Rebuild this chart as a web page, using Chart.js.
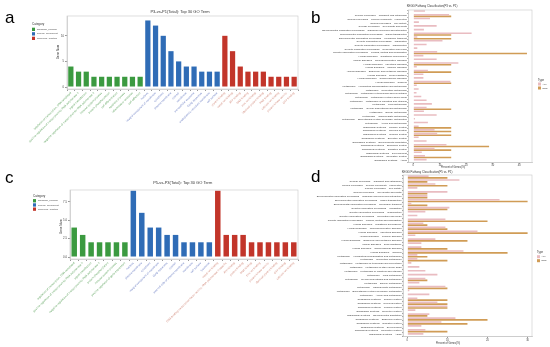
<!DOCTYPE html>
<html><head><meta charset="utf-8">
<script src="https://cdn.jsdelivr.net/npm/chart.js@4/dist/chart.umd.min.js"></script>
<style>
html,body{margin:0;padding:0;background:#fff;width:550px;height:347px;overflow:hidden;}
canvas{position:absolute;}
</style></head><body>
<canvas id="ca" width="300" height="170" style="left:0;top:0"></canvas>
<canvas id="cb" width="250" height="170" style="left:300px;top:0"></canvas>
<canvas id="cc" width="300" height="177" style="left:0;top:170px"></canvas>
<canvas id="cd" width="250" height="177" style="left:300px;top:170px"></canvas>
<script>
// ---------- DATA ----------
const goLabelsA_BP = ["regulation of transcription, DNA-templated","positive regulation of transcription by RNA polymerase II","signal transduction","negative regulation of transcription by RNA polymerase II","immune system process","protein phosphorylation","cell differentiation","apoptotic process","inflammatory response","cell adhesion"];
const goLabelsA_CC = ["nucleus","integral component of membrane","cytoplasm","plasma membrane","cytosol","membrane","extracellular exosome","Golgi apparatus","endoplasmic reticulum membrane","cell surface"];
const goLabelsA_MF = ["protein binding","metal ion binding","ATP binding","DNA binding","zinc ion binding","identical protein binding","RNA binding","calcium ion binding","protein kinase activity","GTP binding"];
const goValuesA_BP = [4,3,3,2,2,2,2,2,2,2];
const goValuesA_CC = [13,12,10,7,5,4,4,3,3,3];
const goValuesA_MF = [10,7,4,3,3,3,2,2,2,2];
const goTicksA = [0,5,10];

const goLabelsC_BP = ["regulation of transcription, DNA-templated","positive regulation of transcription by RNA polymerase II","signal transduction","negative regulation of transcription by RNA polymerase II","protein phosphorylation","immune system process","positive regulation of gene expression"];
const goLabelsC_CC = ["nucleus","plasma membrane","cytoplasm","integral component of membrane","Golgi apparatus","cytosol","external side of plasma membrane","membrane","cell surface","lysosome"];
const goLabelsC_MF = ["metal ion binding","DNA-binding transcription factor activity, RNA polymerase II-specific","ATP binding","protein binding","DNA binding","zinc ion binding","protein kinase activity","identical protein binding","GTP binding","calcium ion binding"];
const goValuesC_BP = [4,3,2,2,2,2,2];
const goValuesC_CC = [9,6,4,4,3,3,2,2,2,2];
const goValuesC_MF = [9,3,3,3,2,2,2,2,2,2];
const goTicksC = [0,2.5,5,7.5];

const goCategories = ["biological_process","cellular_component","molecular_function"];

const keggLabels = ["-",
"Cellular Processes -- Transport and catabolism","Cellular Processes -- Cellular community - eukaryotes","Cellular Processes -- Cell motility","Cellular Processes -- Cell growth and death",
"Environmental Information Processing -- Signaling molecules and interaction","Environmental Information Processing -- Signal transduction","Environmental Information Processing -- Membrane transport",
"Genetic Information Processing -- Translation","Genetic Information Processing -- Transcription","Genetic Information Processing -- Replication and repair","Genetic Information Processing -- Folding, sorting and degradation",
"Human Diseases -- Substance dependence","Human Diseases -- Neurodegenerative diseases","Human Diseases -- Infectious diseases","Human Diseases -- Immune diseases","Human Diseases -- Endocrine and metabolic diseases","Human Diseases -- Drug resistance","Human Diseases -- Cardiovascular diseases","Human Diseases -- Cancers",
"Metabolism -- Xenobiotics biodegradation and metabolism","Metabolism -- Nucleotide metabolism","Metabolism -- Metabolism of terpenoids and polyketides","Metabolism -- Metabolism of other amino acids","Metabolism -- Metabolism of cofactors and vitamins","Metabolism -- Lipid metabolism","Metabolism -- Glycan biosynthesis and metabolism","Metabolism -- Energy metabolism","Metabolism -- Carbohydrate metabolism","Metabolism -- Biosynthesis of other secondary metabolites","Metabolism -- Amino acid metabolism",
"Organismal Systems -- Sensory system","Organismal Systems -- Nervous system","Organismal Systems -- Immune system","Organismal Systems -- Excretory system","Organismal Systems -- Environmental adaptation","Organismal Systems -- Endocrine system","Organismal Systems -- Digestive system","Organismal Systems -- Development","Organismal Systems -- Circulatory system","Organismal Systems -- Aging"];
const keggAllB = [4.4,13.5,6.3,2.1,8.8,4.0,22.0,1.5,11.0,5.0,1.5,9.0,3.8,8.8,17.0,1.3,5.5,3.8,3.8,14.0,1.3,2.0,1.2,3.0,5.0,7.0,5.0,4.0,8.8,0.6,5.5,2.0,8.0,9.0,2.0,5.0,12.5,8.0,3.2,4.4,5.0];
const keggDegB = [0,14.3,0,0,0,0,14.3,14.3,0,0,0,42.9,0,0,14.3,0,14.3,0,0,14.3,0,0,0,0,0,0,14.3,0,0,0,0,14.3,14.3,14.3,0,0,28.6,14.3,0,14.3,0];
const keggAllD = [5.3,13,7,2.5,10,5,23,1,10.5,4.5,2.5,9.5,4,9.5,17.5,2,7,3.5,3.5,14,2.5,2.5,1,3,4.5,7.5,4.5,3,9.5,0.5,5.5,2.5,7.5,10,2,5.5,12,8.5,3.5,4.5,4];
const keggDegD = [10,5,10,0,5,5,30,5,10,0,0,20,5,10,30,0,15,0,10,25,5,10,0,0,0,0,5,0,10,0,0,10,10,10,0,5,20,15,0,10,0];
const keggTicksB = [0,10,20,30,40];
const keggTicksD = [0,10,20,30];
const keggTypes = ["ALL","DEG"];

// ---------- STYLE ----------
const FAM = '"Liberation Sans", Arial, sans-serif';
const catColors = ['#3b9a40','#2f6cb6','#c2352a'];
const catTextColors = ['#6aaa6a','#7788c8','#d28c7e'];
const typeColors = ['#e9bcc1','#d09c56'];

const deco = {
  id:'deco',
  afterDraw(chart, args, o){
    const ctx = chart.ctx, ca = chart.chartArea;
    ctx.save();
    if (o.frame){ ctx.strokeStyle=o.frame; ctx.lineWidth=0.6; ctx.strokeRect(ca.left, ca.top, ca.right-ca.left, ca.bottom-ca.top); }
    (o.rects||[]).forEach(r=>{ ctx.fillStyle=r.c; ctx.fillRect(r.x,r.y,r.w,r.h); });
    (o.texts||[]).forEach(t=>{
      ctx.save();
      ctx.font = t.f; ctx.fillStyle = t.c||'#222';
      ctx.textAlign = t.a||'left'; ctx.textBaseline = t.b||'middle';
      ctx.translate(t.x,t.y); if (t.r) ctx.rotate(t.r);
      ctx.fillText(t.t,0,0);
      ctx.restore();
    });
    ctx.restore();
  }
};
Chart.register(deco);

function goChart(id, vals, labs, ticks, yMin, yMax, pad, yW, xH, barPct, dec, fmt){
  const labels = [].concat(labs[0], labs[1], labs[2]);
  const data = [].concat(vals[0], vals[1], vals[2]);
  const cats = [].concat(vals[0].map(()=>0), vals[1].map(()=>1), vals[2].map(()=>2));
  return new Chart(document.getElementById(id), {
    type:'bar',
    data:{ labels, datasets:[{ data, backgroundColor: cats.map(c=>catColors[c]), borderWidth:0, barPercentage:barPct, categoryPercentage:1 }]},
    options:{
      responsive:false, animation:false, devicePixelRatio:1,
      layout:{ padding:pad },
      plugins:{ legend:{display:false}, tooltip:{enabled:false}, deco:dec },
      scales:{
        x:{ type:'category', offset:true,
            grid:{ display:true, drawOnChartArea:false, drawTicks:true, tickLength:2, color:'#999' },
            border:{ display:true, color:'#bbb', width:0.6 },
            ticks:{ autoSkip:false, minRotation:45, maxRotation:45, padding:0.5,
                    font:{ size:2.8, family:FAM }, color: c=>catTextColors[cats[c.index]] },
            afterFit: s=>{ s.height=xH; s.paddingLeft=0; s.paddingRight=0; s.paddingTop=0; s.paddingBottom=0; } },
        y:{ min:yMin, max:yMax,
            afterBuildTicks: s=>{ s.ticks = ticks.map(v=>({value:v})); },
            grid:{ display:true, drawOnChartArea:false, drawTicks:true, tickLength:2, color:'#999' },
            border:{ display:true, color:'#bbb', width:0.6 },
            ticks:{ font:{ size:2.8, family:FAM }, color:'#444', padding:1, callback: v=>fmt(v) },
            afterFit: s=>{ s.width=yW; s.paddingTop=0; s.paddingBottom=0; } }
      }
    }
  });
}

function keggChart(id, all, deg, ticks, xMin, xMax, pad, yW, xH, dec){
  return new Chart(document.getElementById(id), {
    type:'bar',
    data:{ labels:keggLabels, datasets:[
      { label:keggTypes[0], data:all, backgroundColor:typeColors[0], borderWidth:0, barPercentage:0.95, categoryPercentage:0.9 },
      { label:keggTypes[1], data:deg, backgroundColor:typeColors[1], borderWidth:0, barPercentage:0.95, categoryPercentage:0.9 }
    ]},
    options:{
      indexAxis:'y', responsive:false, animation:false, devicePixelRatio:1,
      layout:{ padding:pad },
      plugins:{ legend:{display:false}, tooltip:{enabled:false}, deco:dec },
      scales:{
        x:{ min:xMin, max:xMax,
            afterBuildTicks: s=>{ s.ticks = ticks.map(v=>({value:v})); },
            grid:{ display:true, drawOnChartArea:false, drawTicks:true, tickLength:1.5, color:'#999' },
            border:{ display:true, color:'#bbb', width:0.6 },
            ticks:{ font:{ size:2.6, family:FAM }, color:'#444', padding:0.3 },
            afterFit: s=>{ s.height=xH; s.paddingLeft=0; s.paddingRight=0; } },
        y:{ type:'category', offset:true,
            grid:{ display:true, drawOnChartArea:false, drawTicks:true, tickLength:1, color:'#999' },
            border:{ display:true, color:'#bbb', width:0.6 },
            ticks:{ autoSkip:false, font:{ size:2.5, family:FAM }, color:'#333', padding:0.5 },
            afterFit: s=>{ s.width=yW; s.paddingTop=0; s.paddingBottom=0; } }
      }
    }
  });
}

function goLegend(x, y0, step){
  const rects = [], texts = [{t:'Category', x:x, y:y0, f:'3px '+FAM, c:'#333'}];
  goCategories.forEach((n,i)=>{
    const yy = y0 + 5 + i*step;
    rects.push({x:x, y:yy-1.6, w:3, h:3.3, c:catColors[i]});
    texts.push({t:n, x:x+5, y:yy, f:'2.4px '+FAM, c:'#444'});
  });
  return {rects, texts};
}
function keggLegend(x, y0){
  const rects = [], texts = [{t:'Type', x:x, y:y0, f:'2.8px '+FAM, c:'#333'}];
  keggTypes.forEach((n,i)=>{
    const yy = y0 + 4 + i*4;
    rects.push({x:x, y:yy-1.5, w:3, h:3, c:typeColors[i]});
    texts.push({t:n, x:x+4.5, y:yy, f:'2.4px '+FAM, c:'#444'});
  });
  return {rects, texts};
}

const fmtInt = v=>String(v);
const fmt1 = v=>v.toFixed(1);

// Panel a
const lgA = goLegend(32, 24.3, 4.5);
goChart('ca', [goValuesA_BP,goValuesA_CC,goValuesA_MF], [goLabelsA_BP,goLabelsA_CC,goLabelsA_MF], goTicksA,
  -0.39, 13.87, {left:54, top:16, right:2, bottom:0}, 13, 81, 0.68,
  { frame:'#c8c8c8', rects:lgA.rects, texts:[
      {t:'a', x:5, y:23, f:'17px '+FAM, c:'#000', b:'alphabetic'},
      {t:'P3-vs-P1(Total): Top 30 GO Term', x:180, y:11.7, f:'4px '+FAM, c:'#333', a:'center'},
      {t:'Gene Num', x:58.3, y:52, f:'3px '+FAM, c:'#333', a:'center', r:-Math.PI/2}
    ].concat(lgA.texts) }, fmtInt);

// Panel c
const lgC = goLegend(33, 25.7, 4.2);
goChart('cc', [goValuesC_BP,goValuesC_CC,goValuesC_MF], [goLabelsC_BP,goLabelsC_CC,goLabelsC_MF], goTicksC,
  -0.27, 9.1, {left:57, top:20, right:2, bottom:0}, 13, 88, 0.65,
  { frame:'#c8c8c8', rects:lgC.rects, texts:[
      {t:'c', x:5, y:12.7, f:'17px '+FAM, c:'#000', b:'alphabetic'},
      {t:'P5-vs-P3(Total): Top 30 GO Term', x:182.7, y:12.7, f:'4px '+FAM, c:'#333', a:'center'},
      {t:'Gene Num', x:61, y:56.7, f:'3px '+FAM, c:'#333', a:'center', r:-Math.PI/2}
    ].concat(lgC.texts) }, fmt1);

// Panel b
const lgB = keggLegend(238, 80);
keggChart('cb', keggAllB, keggDegB, keggTicksB, -1.9, 44.8, {left:0, top:10, right:18, bottom:0}, 108.3, 7.7,
  { frame:'#c8c8c8', rects:lgB.rects, texts:[
      {t:'b', x:11, y:23.3, f:'17px '+FAM, c:'#000', b:'alphabetic'},
      {t:'KEGG Pathway Classification(P3 vs. P1)', x:132, y:6, f:'2.8px '+FAM, c:'#333', a:'center'},
      {t:'Percent of Genes(%)', x:153, y:167.5, f:'2.6px '+FAM, c:'#333', a:'center'}
    ].concat(lgB.texts) });

// Panel d
const lgD = keggLegend(237, 82.7);
keggChart('cd', keggAllD, keggDegD, keggTicksD, -1.08, 31.1, {left:0, top:5, right:18, bottom:0}, 103, 10.3,
  { frame:'#c8c8c8', rects:lgD.rects, texts:[
      {t:'d', x:11, y:11.5, f:'17px '+FAM, c:'#000', b:'alphabetic'},
      {t:'KEGG Pathway Classification(P5 vs. P1)', x:127, y:2.5, f:'2.8px '+FAM, c:'#333', a:'center'},
      {t:'Percent of Genes(%)', x:148, y:173.5, f:'2.6px '+FAM, c:'#333', a:'center'}
    ].concat(lgD.texts) });
</script>
</body></html>
